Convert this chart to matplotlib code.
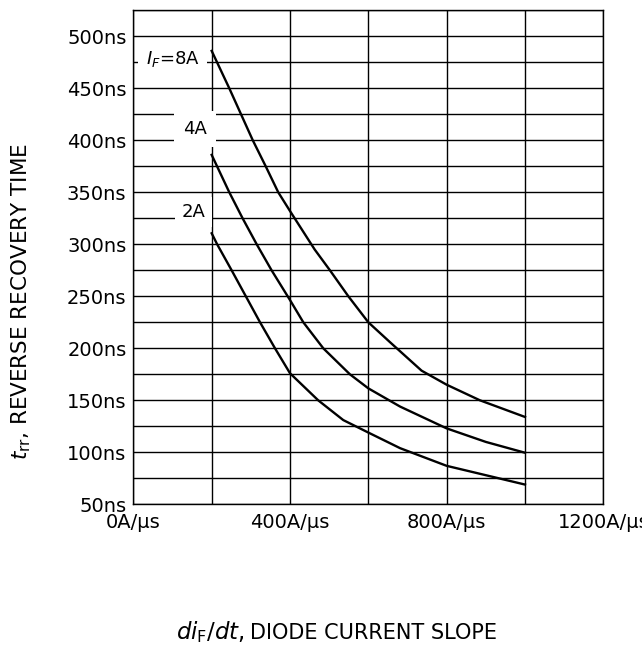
import numpy as np
import matplotlib.pyplot as plt

# curves (x in A/us, y in ns)
x_8a = [200, 245, 305, 338, 370, 400, 463, 502, 549, 600, 655, 736, 800, 885, 1000]
y_8a = [486, 450, 400, 375, 350, 332, 295, 275, 250, 225, 206, 178.5, 165, 150, 134]

x_4a = [200, 245, 279, 315, 353, 400, 434, 485, 553, 600, 681, 800, 900, 1000]
y_4a = [386, 350, 325, 300, 275, 246.4, 225, 200, 175, 161.5, 144, 123, 110, 99.6]

x_2a = [200, 214, 251, 323.5, 361.7, 400, 472, 536, 600, 681, 800, 900, 1000]
y_2a = [310.6, 300, 275, 225, 200, 176, 150, 131, 119, 104, 87, 78, 69]

y_ticks = np.arange(50, 501, 50)
y_labels = [f"{v}ns" for v in y_ticks]
x_ticks = [0, 400, 800, 1200]
x_labels = [f"{v}A/\u00b5s" for v in x_ticks]

plt.rcParams['font.family'] = ['DejaVu Sans']

fig = plt.figure(figsize=(6.42, 6.45), dpi=100)
ax = fig.add_axes([0.2077, 0.2181, 0.7321, 0.7659])

for xs, ys in [(x_8a, y_8a), (x_4a, y_4a), (x_2a, y_2a)]:
    ax.plot(xs, ys, color='black', linewidth=1.7, zorder=4)

ax.set_xlim(0, 1200)
ax.set_ylim(50, 525)
ax.set_xticks(x_ticks)
ax.set_xticklabels(x_labels)
ax.set_xticks([200, 600, 1000], minor=True)
ax.set_yticks(y_ticks)
ax.set_yticklabels(y_labels)
ax.set_yticks(np.arange(75, 526, 50), minor=True)
ax.tick_params(which='both', length=0)
ax.tick_params(axis='x', pad=6, labelsize=14)
ax.tick_params(axis='y', pad=5, labelsize=14)
ax.set_axisbelow(True)
ax.grid(which='both', color='black', linewidth=1.0)
for s in ax.spines.values():
    s.set_linewidth(1.0)

# curve labels with white boxes over the grid
ax.text(100, 478, r'$I_F$=8A', fontsize=13, ha='center', va='center', zorder=3,
        bbox=dict(boxstyle='square,pad=0.42', fc='white', ec='none'))
ax.text(157, 411, '4A', fontsize=13, ha='center', va='center', zorder=3,
        bbox=dict(boxstyle='square,pad=0.5', fc='white', ec='none'))
ax.text(153, 331, '2A', fontsize=13, ha='center', va='center', zorder=3,
        bbox=dict(boxstyle='square,pad=0.35', fc='white', ec='none'))

fig.text(0.033, 0.533, r'$t_{\mathrm{rr}}$, REVERSE RECOVERY TIME', rotation=90,
         fontsize=15.5, ha='center', va='center')
fig.text(0.3816, 6 / 645, r'$di_{\mathrm{F}}/dt$,', fontsize=16.5, ha='right', va='baseline')
fig.text(0.3894, 6 / 645, 'DIODE CURRENT SLOPE', fontsize=15, ha='left', va='baseline')

fig.savefig('out.png', dpi=100)
